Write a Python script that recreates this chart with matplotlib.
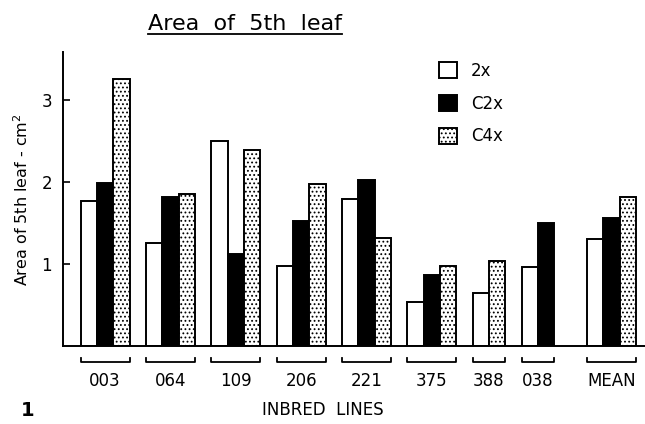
import matplotlib
matplotlib.use("Agg")
import matplotlib.pyplot as plt
from matplotlib.transforms import blended_transform_factory
from matplotlib.patches import Patch

plt.rcParams['font.family'] = ['Liberation Sans Narrow', 'DejaVu Sans']
plt.rcParams['hatch.linewidth'] = 0.8

# Leaf-area data per inbred line (cm^2); None = not measured
lines = ['003', '064', '109', '206', '221', '375', '388', '038', 'MEAN']
series_names = ['2x', 'C2x', 'C4x']
area_2x = [1.77, 1.25, 2.50, 0.98, 1.79, 0.53, 0.65, 0.96, 1.30]
area_c2x = [1.99, 1.82, 1.12, 1.52, 2.02, 0.87, None, 1.50, 1.56]
area_c4x = [3.25, 1.85, 2.39, 1.97, 1.31, 0.98, 1.03, None, 1.82]
y_ticks = [1, 2, 3]

styles = [dict(facecolor='white', hatch=None),
          dict(facecolor='black', hatch=None),
          dict(facecolor='white', hatch='....')]

fig = plt.figure(figsize=(6.45, 4.24), dpi=100)
W, H = 645, 424
ax = fig.add_axes([63 / W, (H - 346) / H, 582 / W, (346 - 52) / H])

# Bars sit in consecutive unit-wide slots; one empty slot between lines,
# two before the overall mean.
all_series = [area_2x, area_c2x, area_c4x]
slot = 0
group_spans = []
for gi, name in enumerate(lines):
    if gi == len(lines) - 1:
        slot += 1
    start = slot
    for si, vals in enumerate(all_series):
        v = vals[gi]
        if v is None:
            continue
        ax.bar(slot, v, width=1.0, align='edge', edgecolor='black',
               linewidth=1.4, **styles[si])
        slot += 1
    group_spans.append((start, slot))
    slot += 1

ax.set_xlim(-1.08, 34.56)
ax.set_ylim(0, 3.58)
ax.set_yticks(y_ticks)
ax.set_yticklabels([str(t) for t in y_ticks], fontsize=12)
ax.tick_params(axis='y', direction='in', length=5, width=1.2, pad=8)
ax.set_xticks([])
for s in ['top', 'right']:
    ax.spines[s].set_visible(False)
ax.spines['left'].set_linewidth(1.4)
ax.spines['bottom'].set_linewidth(1.4)

# Brackets and labels under each group
trans = blended_transform_factory(ax.transData, fig.transFigure)
yb = (H - 362) / H
tip = 4 / H
for (a, b), name in zip(group_spans, lines):
    ax.plot([a, a, b, b], [yb + tip, yb, yb, yb + tip], color='black',
            lw=1.3, transform=trans, clip_on=False)
    ax.text((a + b) / 2, (H - 381) / H, name, transform=trans,
            ha='center', va='center', fontsize=12)

fig.text(323 / W, (H - 410) / H, 'INBRED  LINES', ha='center', va='center',
         fontsize=12)
fig.text(28 / W, (H - 410) / H, '1', ha='center', va='center',
         fontsize=14, fontweight='bold')

fig.text(22 / W, (H - 200) / H, 'Area of 5th leaf - cm$^2$', rotation=90,
         ha='center', va='center', fontsize=11.5)

title = fig.text(245 / W, (H - 24) / H, 'Area  of  5th  leaf', ha='center',
                 va='center', fontsize=16)
fig.canvas.draw()
bb = title.get_window_extent()
fig.add_artist(plt.Line2D([bb.x0 / W, bb.x1 / W], [(H - 34) / H] * 2,
                          color='black', lw=1.3, transform=fig.transFigure))

handles = [Patch(edgecolor='black', linewidth=1.4, **styles[i])
           for i in range(3)]
fig.legend(handles, series_names, loc='upper left',
           bbox_to_anchor=(424 / W, (H - 47) / H), frameon=False,
           fontsize=12, handlelength=1.1, handleheight=1.1,
           labelspacing=0.88, handletextpad=0.8)

fig.savefig('out.png', dpi=100)
